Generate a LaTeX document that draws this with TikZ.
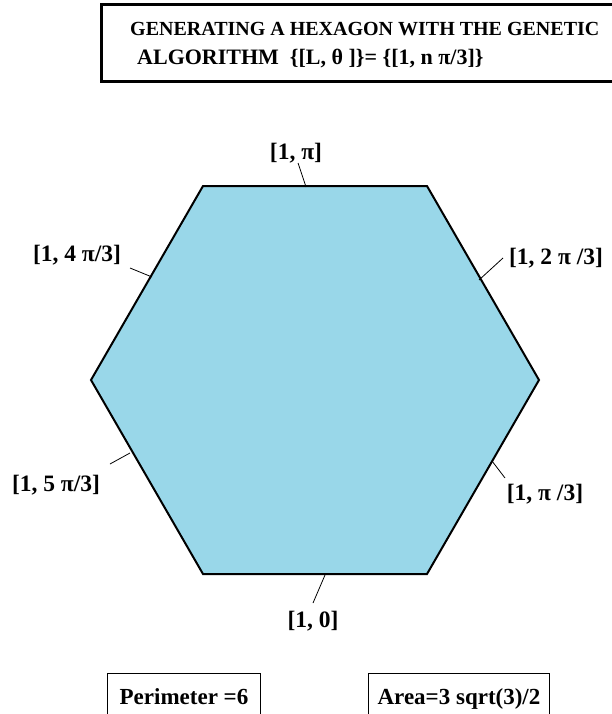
\documentclass[tikz,border=0pt]{standalone}
\usepackage{fontspec}
\setmainfont{Liberation Serif}
\usepackage{tikz}
\usetikzlibrary{calc}
\definecolor{hexblue}{RGB}{153,215,233}

\begin{document}
\begin{tikzpicture}[x=1pt,y=-1pt,
	titletext/.style={font=\fontsize{20}{22}\bfseries\selectfont, inner sep=0pt, anchor=base west},
	lbl/.style={font=\fontsize{23.5}{25}\bfseries\selectfont, inner sep=0pt, anchor=base},
	lead/.style={line width=0.8pt},
	infobox/.style={draw, line width=0.8pt, font=\fontsize{23}{25}\bfseries\selectfont,
		anchor=base, text height=16pt, text depth=30pt, inner ysep=15pt}]
	\useasboundingbox (0,0) rectangle (611,714);
	% title box
	\draw[line width=3pt] (101,5) rectangle (640,82);
	\node[titletext] (title1) at (130,36) {GENERATING A HEXAGON WITH THE GENETIC};
	\node[titletext, font=\fontsize{22}{24}\bfseries\selectfont] (title2) at (137,65) {ALGORITHM~~\{[L, θ ]\}= \{[1, n π/3]\}};
	% hexagon
	\coordinate (A) at (203,186);
	\coordinate (B) at (427,186);
	\coordinate (C) at (539,380);
	\coordinate (D) at (427,574);
	\coordinate (E) at (203,574);
	\coordinate (F) at (91,380);
	\filldraw[fill=hexblue, line width=2pt, line join=miter] (A) -- (B) -- (C) -- (D) -- (E) -- (F) -- cycle;
	% side labels
	\node[lbl] (l3) at (296,160) {[1, π]};
	\node[lbl] (l4) at (77,261) {[1, 4 π/3]};
	\node[lbl] (l2) at (556,264) {[1, 2 π /3]};
	\node[lbl] (l5) at (56,491) {[1, 5 π/3]};
	\node[lbl] (l1) at (545,500) {[1, π /3]};
	\node[lbl] (l0) at (313,627) {[1, 0]};
	% leader lines
	\coordinate (s3) at (298,163); \coordinate (t3) at (306,187);
	\coordinate (s4) at (130,268); \coordinate (t4) at (152,277);
	\coordinate (s2) at (503,258); \coordinate (t2) at (479,280);
	\coordinate (s5) at (110,464); \coordinate (t5) at (130,453);
	\coordinate (s1) at (505,478); \coordinate (t1) at (492,461);
	\coordinate (s0) at (313,603); \coordinate (t0) at (325,575);
	\foreach \i in {0,...,5}
		\draw[lead] (s\i) -- (t\i);
	% results
	\node[infobox, minimum width=153pt] (perim) at (184,704) {Perimeter =6};
	\node[infobox, minimum width=181pt] (area) at (459,704) {Area=3 sqrt(3)/2};
\end{tikzpicture}
\end{document}
